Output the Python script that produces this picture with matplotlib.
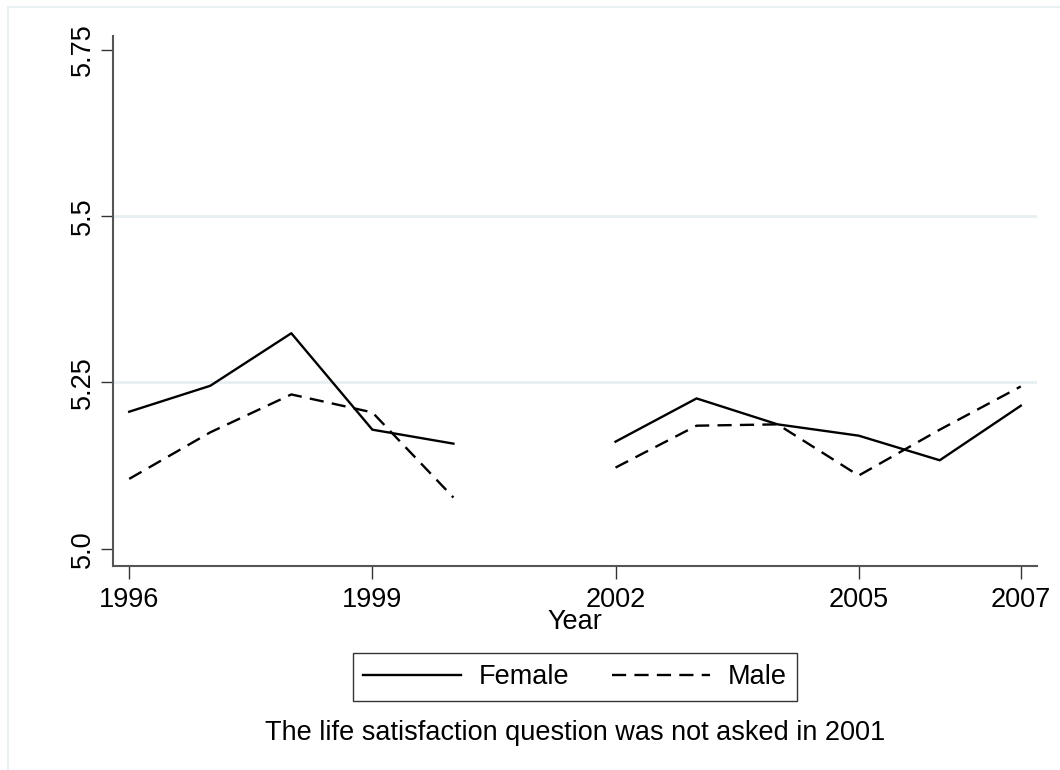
import numpy as np
import matplotlib
matplotlib.use("Agg")
import matplotlib.pyplot as plt
from matplotlib.patches import Rectangle

plt.rcParams["font.family"] = ["Liberation Sans", "DejaVu Sans"]

# ── Data ──────────────────────────────────────────────────
years = [1996, 1997, 1998, 1999, 2000, 2001, 2002, 2003, 2004, 2005, 2006, 2007]
female = [5.206, 5.245, 5.324, 5.179, 5.158, np.nan, 5.161, 5.226, 5.187, 5.170, 5.133, 5.215]
male = [5.105, 5.175, 5.232, 5.205, 5.077, np.nan, 5.122, 5.185, 5.187, 5.110, 5.179, 5.244]
xticks = [1996, 1999, 2002, 2005, 2007]
yticks = [5.0, 5.25, 5.5, 5.75]
ytick_labels = ["5.0", "5.25", "5.5", "5.75"]
note = "The life satisfaction question was not asked in 2001"

FS = 19.5

# ── Figure ────────────────────────────────────────────────
fig = plt.figure(figsize=(10.6, 7.7), dpi=100)
fig.patches.append(Rectangle((8 / 1060, -0.2), 1.3, 1.2 - 7 / 770, transform=fig.transFigure,
                             fill=False, edgecolor="#e8f0f2", lw=1.5))
ax = fig.add_axes([113 / 1060, 204 / 770, 924 / 1060, 530 / 770])

ax.plot(years, female, color="black", lw=1.7, label="Female")
ax.plot(years, male, color="black", lw=1.7, dashes=(6, 3.5), label="Male")

for y in [5.25, 5.5]:
    ax.axhline(y, color="#e6eff1", lw=2, zorder=0)

ax.set_xlim(1995.8, 2007.2)
ax.set_ylim(4.974, 5.771)
ax.set_xticks(xticks)
ax.set_yticks(yticks)
ax.set_yticklabels(ytick_labels, rotation=90, va="center")
ax.tick_params(labelsize=FS, length=9, width=1, color="#333333", pad=6)
ax.tick_params(axis="y", pad=3)

for s in ["top", "right"]:
    ax.spines[s].set_visible(False)
for s in ["left", "bottom"]:
    ax.spines[s].set_color("#555555")
    ax.spines[s].set_linewidth(1.5)

ax.set_xlabel("Year", fontsize=FS, labelpad=-3)

leg = fig.legend(loc="center", bbox_to_anchor=(575 / 1060, 1 - 677 / 770), ncol=2,
                 fontsize=FS, frameon=True, fancybox=False, handlelength=3.6,
                 handletextpad=0.65, columnspacing=1.6, borderpad=0.4, borderaxespad=0)
leg.get_frame().set_edgecolor("black")
leg.get_frame().set_linewidth(1)

fig.text(575 / 1060, 1 - 733 / 770, note, ha="center", va="center", fontsize=FS)

fig.savefig("out.png", dpi=100)
